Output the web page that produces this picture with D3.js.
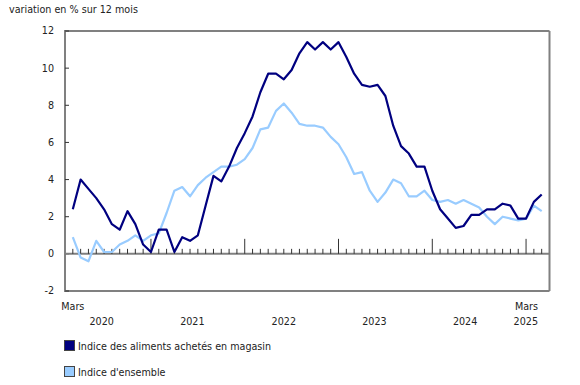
<!DOCTYPE html>
<html>
<head>
  <meta charset="utf-8">
  <script src="https://d3js.org/d3.v7.min.js"></script>
  <style>
    body{ margin:0; background:#fff; }
    text{ font-family:"DejaVu Sans", Verdana, sans-serif; fill:#222; }
  </style>
</head>
<body>
<script>
// mars 2020 -> mars 2025, variation en % sur 12 mois
var aliments = [
  2.4, 4.0, 3.5, 3.0, 2.4, 1.6, 1.3, 2.3, 1.6, 0.5,
  0.1, 1.3, 1.3, 0.1, 0.9, 0.7, 1.0, 2.6, 4.2, 3.9, 4.7, 5.7,
  6.5, 7.4, 8.7, 9.7, 9.7, 9.4, 9.9, 10.8, 11.4, 11.0, 11.4, 11.0,
  11.4, 10.6, 9.7, 9.1, 9.0, 9.1, 8.5, 6.9, 5.8, 5.4, 4.7, 4.7,
  3.4, 2.4, 1.9, 1.4, 1.5, 2.1, 2.1, 2.4, 2.4, 2.7, 2.6, 1.9,
  1.9, 2.8, 3.2
];
var ensemble = [
  0.9, -0.2, -0.4, 0.7, 0.1, 0.1, 0.5, 0.7, 1.0, 0.7,
  1.0, 1.1, 2.2, 3.4, 3.6, 3.1, 3.7, 4.1, 4.4, 4.7, 4.7, 4.8,
  5.1, 5.7, 6.7, 6.8, 7.7, 8.1, 7.6, 7.0, 6.9, 6.9, 6.8, 6.3,
  5.9, 5.2, 4.3, 4.4, 3.4, 2.8, 3.3, 4.0, 3.8, 3.1, 3.1, 3.4,
  2.9, 2.8, 2.9, 2.7, 2.9, 2.7, 2.5, 2.0, 1.6, 2.0, 1.9, 1.8,
  1.9, 2.6, 2.3
];
var yTicks = [-2, 0, 2, 4, 6, 8, 10, 12];
var janIndex = [10, 22, 34, 46, 58];          // janvier de chaque annee
var years = ["2020", "2021", "2022", "2023", "2024"];
var yearPos = [3.7, 15.3, 27.0, 38.6, 50.2];  // centre des etiquettes d'annee (mois)
var series = [
  {name: "Indice des aliments achetés en magasin", values: aliments, color: "#000080"},
  {name: "Indice d'ensemble", values: ensemble, color: "#99ccff"}
];

var width = 580, height = 385;
var fs = "9.6px";

var svg = d3.select("body").append("svg")
  .attr("width", width)
  .attr("height", height);

var x = d3.scaleLinear().domain([-1, 61]).range([65, 549.5]);
var y = d3.scaleLinear().domain([-2, 12]).range([291, 31]);

// titre axe y
svg.append("text")
  .attr("x", 9).attr("y", 13)
  .attr("font-size", fs)
  .text("variation en % sur 12 mois");

// cadre
var frame = svg.append("g").attr("stroke", "#808080").attr("stroke-width", 2).attr("fill", "none");
frame.append("line").attr("x1", x(-1)).attr("x2", x(61)).attr("y1", y(12)).attr("y2", y(12));
frame.append("line").attr("x1", x(-1)).attr("x2", x(61)).attr("y1", y(-2)).attr("y2", y(-2));
frame.append("line").attr("x1", x(61)).attr("x2", x(61)).attr("y1", y(12)).attr("y2", y(-2));
frame.append("line").attr("x1", x(-1)).attr("x2", x(-1)).attr("y1", y(12) - 1).attr("y2", y(-2) + 1);

// axe y
var yAxis = svg.append("g");
yAxis.selectAll("line").data(yTicks).enter().append("line")
  .attr("x1", x(-1)).attr("x2", x(-1) + 4)
  .attr("y1", function(d){ return y(d); })
  .attr("y2", function(d){ return y(d); })
  .attr("stroke", "#333").attr("stroke-width", 1);
yAxis.selectAll("text").data(yTicks).enter().append("text")
  .attr("x", 54)
  .attr("y", function(d){ return y(d); })
  .attr("dy", "0.35em")
  .attr("text-anchor", "end")
  .attr("font-size", fs)
  .text(function(d){ return d; });

// ligne du zero
svg.append("line")
  .attr("x1", x(-1)).attr("x2", x(61))
  .attr("y1", y(0)).attr("y2", y(0))
  .attr("stroke", "#808080").attr("stroke-width", 2);

// graduations mensuelles
svg.append("g").selectAll("line").data(d3.range(0, 61)).enter().append("line")
  .attr("x1", function(d){ return x(d); })
  .attr("x2", function(d){ return x(d); })
  .attr("y1", function(d){ return y(0) - (janIndex.indexOf(d) >= 0 ? 15 : 5); })
  .attr("y2", y(0))
  .attr("stroke", "#333").attr("stroke-width", 1);

// etiquettes x
svg.append("text").attr("x", x(0)).attr("y", 310)
  .attr("text-anchor", "middle").attr("font-size", fs).text("Mars");
svg.append("text").attr("x", 538).attr("y", 310)
  .attr("text-anchor", "end").attr("font-size", fs).text("Mars");
svg.append("text").attr("x", 538).attr("y", 325)
  .attr("text-anchor", "end").attr("font-size", fs).text("2025");
svg.append("g").selectAll("text").data(years).enter().append("text")
  .attr("x", function(d, i){ return x(yearPos[i]); })
  .attr("y", 325)
  .attr("text-anchor", "middle")
  .attr("font-size", fs)
  .text(function(d){ return d; });

// courbes
var line = d3.line()
  .x(function(d, i){ return x(i); })
  .y(function(d){ return y(d); });

svg.append("g").selectAll("path").data(series.slice().reverse()).enter().append("path")
  .attr("d", function(d){ return line(d.values); })
  .attr("fill", "none")
  .attr("stroke", function(d){ return d.color; })
  .attr("stroke-width", 2.2)
  .attr("stroke-linejoin", "round");

// legende
var legend = svg.append("g").selectAll("g").data(series).enter().append("g")
  .attr("transform", function(d, i){ return "translate(64," + (340 + i * 26) + ")"; });
legend.append("rect")
  .attr("x", 0.5).attr("y", 0.5)
  .attr("width", 10).attr("height", 10)
  .attr("fill", function(d){ return d.color; })
  .attr("stroke", "#444").attr("stroke-width", 1);
legend.append("text")
  .attr("x", 14).attr("y", 9.5)
  .attr("font-size", fs)
  .text(function(d){ return d.name; });
</script>
</body>
</html>
